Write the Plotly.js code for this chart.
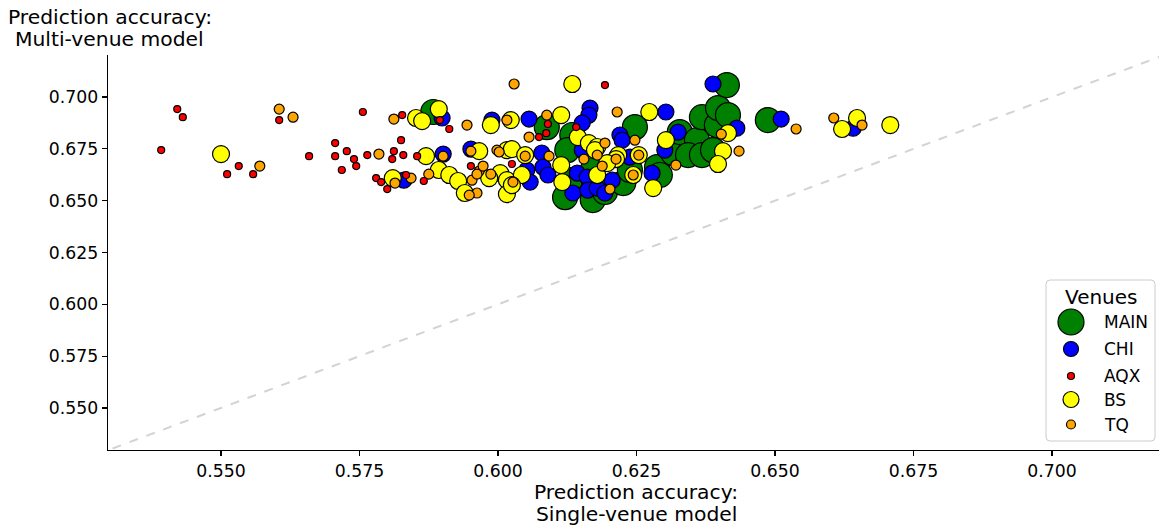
<!DOCTYPE html>
<html>
<head>
<meta charset="utf-8">
<script src="https://cdn.plot.ly/plotly-3.0.1.min.js"></script>
<style>html,body{margin:0;padding:0;background:#fff;}#chart{width:1159px;height:527px;}</style>
</head>
<body>
<div id="chart"></div>
<script>
// Venue names and colours
const venues = ["MAIN", "CHI", "AQX", "BS", "TQ"];
const venueColors = ["#008000", "#0000ff", "#ff0000", "#ffff00", "#ffa500"];

// Single-venue accuracy (x) and multi-venue accuracy (y) per venue
const mainX = [0.5883,0.6088,0.6134,0.6125,0.6130,0.6121,0.6171,0.6171,0.6193,0.6226,0.6247,0.6238,0.6287,0.6292,0.6316,0.6328,0.6359,0.6343,0.6368,0.6368,0.6388,0.6395,0.6397,0.6415,0.6413,0.6487];
const mainY = [0.6928,0.6855,0.6817,0.6744,0.6599,0.6517,0.6648,0.6503,0.6542,0.6585,0.6855,0.6648,0.6662,0.6624,0.6730,0.6831,0.6792,0.6720,0.6903,0.6720,0.6744,0.6865,0.6947,0.6913,0.7058,0.6889];

const chiX = [0.5899,0.5989,0.5901,0.5951,0.5830,0.6056,0.6166,0.6164,0.6152,0.6152,0.6079,0.6081,0.6052,0.6058,0.6090,0.6143,0.6161,0.6135,0.6162,0.6220,0.6224,0.6238,0.6206,0.6179,0.6193,0.6278,0.6301,0.6303,0.6325,0.6388,0.6431,0.6511,0.6641];
const chiY = [0.6899,0.6889,0.6725,0.6749,0.6599,0.6894,0.6947,0.6913,0.6875,0.6744,0.6730,0.6662,0.6648,0.6590,0.6624,0.6633,0.6614,0.6537,0.6551,0.6817,0.6792,0.6710,0.6599,0.6561,0.6537,0.6633,0.6744,0.6928,0.6831,0.7063,0.6850,0.6894,0.6850];

const aqxX = [0.5421,0.5431,0.5392,0.5511,0.5532,0.5558,0.5605,0.5756,0.5659,0.5706,0.5706,0.5727,0.5740,0.5744,0.5718,0.5764,0.5812,0.5809,0.5829,0.5825,0.5827,0.5780,0.5789,0.5800,0.5834,0.5854,0.5866,0.5895,0.5912,0.5951,0.6025,0.6090,0.6087,0.6074,0.6141,0.6193];
const aqxY = [0.6942,0.6903,0.6744,0.6628,0.6667,0.6628,0.6889,0.6928,0.6715,0.6778,0.6715,0.6739,0.6701,0.6667,0.6648,0.6720,0.6739,0.6701,0.6720,0.6792,0.6913,0.6609,0.6590,0.6556,0.6624,0.6715,0.6595,0.6889,0.6846,0.6667,0.6677,0.6870,0.6826,0.6807,0.6855,0.7058];

const bsX = [0.5500,0.5810,0.5852,0.5863,0.5893,0.5987,0.5870,0.5966,0.6016,0.5893,0.5912,0.5928,0.5940,0.6004,0.5984,0.6016,0.6016,0.6134,0.6114,0.6023,0.6144,0.6164,0.6179,0.6025,0.6049,0.6043,0.6025,0.6114,0.6116,0.6179,0.6273,0.6303,0.6280,0.6175,0.6217,0.6213,0.6254,0.6197,0.6244,0.6415,0.6406,0.6397,0.6621,0.6648,0.6708];
const bsY = [0.6725,0.6609,0.6899,0.6884,0.6942,0.6865,0.6715,0.6739,0.6744,0.6648,0.6624,0.6595,0.6537,0.6633,0.6609,0.6599,0.6532,0.7063,0.6913,0.6889,0.6807,0.6778,0.6759,0.6749,0.6720,0.6624,0.6575,0.6672,0.6590,0.6624,0.6928,0.6792,0.6561,0.6744,0.6720,0.6701,0.6720,0.6681,0.6624,0.6826,0.6739,0.6677,0.6846,0.6899,0.6865];

const tqX = [0.5570,0.5605,0.5630,0.5785,0.5812,0.5814,0.5843,0.5875,0.5901,0.5944,0.5951,0.5998,0.6002,0.6016,0.5953,0.5966,0.5973,0.5962,0.5987,0.5962,0.5948,0.6029,0.6088,0.6056,0.6049,0.6092,0.6027,0.6179,0.6155,0.6215,0.6247,0.6193,0.6188,0.6213,0.6254,0.6244,0.6202,0.6321,0.6403,0.6435,0.6538,0.6606,0.6657];
const tqY = [0.6667,0.6942,0.6903,0.6725,0.6894,0.6585,0.6609,0.6628,0.6715,0.6865,0.6739,0.6744,0.6735,0.6889,0.6599,0.6643,0.6667,0.6628,0.6628,0.6537,0.6527,0.7063,0.6913,0.6807,0.6715,0.6715,0.6590,0.6720,0.6701,0.6928,0.6792,0.6778,0.6667,0.6701,0.6720,0.6624,0.6556,0.6672,0.6821,0.6739,0.6846,0.6899,0.6865];

// Equality reference line
const diagonal = [0.50, 0.75];

const tickVals = [0.550, 0.575, 0.600, 0.625, 0.650, 0.675, 0.700];

const seriesX = {MAIN: mainX, CHI: chiX, AQX: aqxX, BS: bsX, TQ: tqX};
const seriesY = {MAIN: mainY, CHI: chiY, AQX: aqxY, BS: bsY, TQ: tqY};
const markerSize = {MAIN: 25, CHI: 16, AQX: 7, BS: 17, TQ: 10};
const legendSize = {MAIN: 26, CHI: 15, AQX: 7, BS: 16, TQ: 9};
const drawOrder = ["MAIN", "CHI", "BS", "TQ", "AQX"];

const traces = [{
  x: diagonal, y: diagonal, mode: "lines", type: "scatter",
  line: {color: "#d3d3d3", width: 2, dash: "dash"},
  showlegend: false, hoverinfo: "skip"
}];
drawOrder.forEach(v => {
  const i = venues.indexOf(v);
  traces.push({
    x: seriesX[v], y: seriesY[v], mode: "markers", type: "scatter", name: v,
    marker: {color: venueColors[i], size: markerSize[v], line: {color: "#000", width: 1.2}},
    showlegend: false, cliponaxis: false
  });
});

// Plot area in pixels: x 108..1159, y 55..450
const L = 108, R = 1159, T = 55, B = 450;
const px = p => (p - L) / (R - L);
const py = p => (B - p) / (B - T);

// Rounded legend frame as a path in paper units
function roundedBox(x0, y0, x1, y1, r) {
  const a = px(x0), b = px(x1), c = py(y1), d = py(y0);
  const rx = r / (R - L), ry = r / (B - T);
  return `M ${a + rx} ${d} L ${b - rx} ${d} Q ${b} ${d} ${b} ${d - ry} ` +
         `L ${b} ${c + ry} Q ${b} ${c} ${b - rx} ${c} L ${a + rx} ${c} ` +
         `Q ${a} ${c} ${a} ${c + ry} L ${a} ${d - ry} Q ${a} ${d} ${a + rx} ${d} Z`;
}

const font = "DejaVu Sans, sans-serif";
const titleSize = 20.3;
const shapes = [{
  type: "path", xref: "paper", yref: "paper",
  path: roundedBox(1046, 280, 1155, 441, 4),
  line: {color: "#cccccc", width: 1}, fillcolor: "rgba(255,255,255,0.85)", layer: "above"
}];
const annotations = [
  {text: "Prediction accuracy:", x: px(109.5), y: py(17), xref: "paper", yref: "paper", showarrow: false, xanchor: "center", yanchor: "middle", font: {family: font, size: titleSize, color: "#000"}},
  {text: "Multi-venue model", x: px(109.5), y: py(39), xref: "paper", yref: "paper", showarrow: false, xanchor: "center", yanchor: "middle", font: {family: font, size: titleSize, color: "#000"}},
  {text: "Prediction accuracy:", x: px(636), y: py(492), xref: "paper", yref: "paper", showarrow: false, xanchor: "center", yanchor: "middle", font: {family: font, size: titleSize, color: "#000"}},
  {text: "Single-venue model", x: px(636), y: py(514), xref: "paper", yref: "paper", showarrow: false, xanchor: "center", yanchor: "middle", font: {family: font, size: titleSize, color: "#000"}},
  {text: "Venues", x: px(1101.5), y: py(297), xref: "paper", yref: "paper", showarrow: false, xanchor: "center", yanchor: "middle", font: {family: font, size: 20, color: "#000"}}
];
const legendRows = [322, 349, 376, 399.5, 424.5];
venues.forEach((v, i) => {
  const s = legendSize[v] / 2;
  shapes.push({
    type: "circle", xref: "paper", yref: "paper", xsizemode: "pixel", ysizemode: "pixel",
    xanchor: px(1071), yanchor: py(legendRows[i]), x0: -s, x1: s, y0: -s, y1: s,
    fillcolor: venueColors[i], line: {color: "#000", width: 1.2}, layer: "above"
  });
  annotations.push({
    text: v, x: px(1102), y: py(legendRows[i]), xref: "paper", yref: "paper", showarrow: false,
    xanchor: "left", yanchor: "middle", font: {family: font, size: 17, color: "#000"}
  });
});

const axisCommon = {
  tickvals: tickVals, tickformat: ".3f", showgrid: false, zeroline: false,
  showline: true, linecolor: "#000", linewidth: 1.2, ticks: "outside", ticklen: 5,
  tickwidth: 1.2, tickcolor: "#000", mirror: false,
  tickfont: {family: font, size: 17.3, color: "#000"}
};

const layout = {
  width: 1159, height: 527,
  margin: {l: L, r: 1159 - R, t: T, b: 527 - B, pad: 0},
  paper_bgcolor: "#fff", plot_bgcolor: "#fff",
  showlegend: false,
  xaxis: Object.assign({}, axisCommon, {range: [0.5296, 0.7193]}),
  yaxis: Object.assign({}, axisCommon, {range: [0.5297, 0.7203]}),
  shapes: shapes,
  annotations: annotations
};

Plotly.newPlot("chart", traces, layout, {displayModeBar: false, staticPlot: true});
</script>
</body>
</html>
